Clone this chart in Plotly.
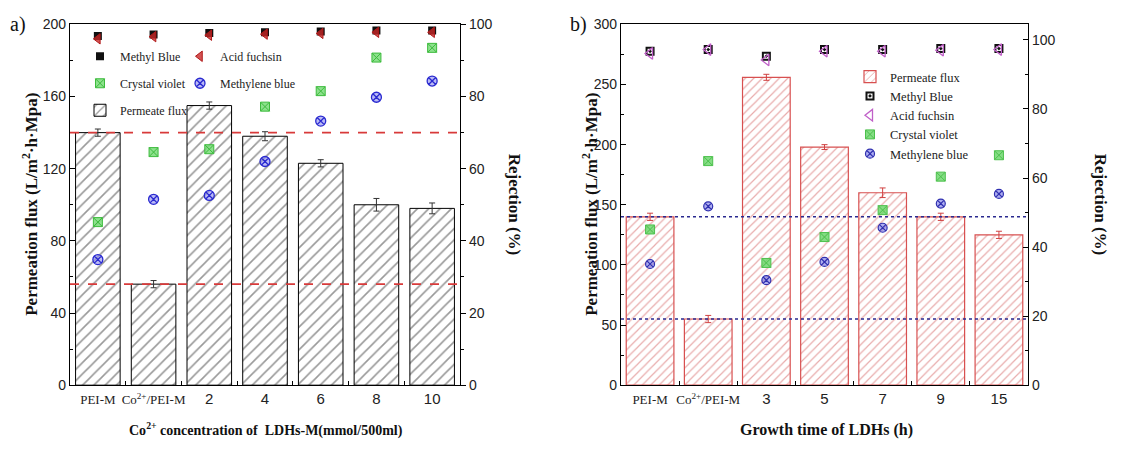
import plotly.graph_objects as go

# ---------------- data ----------------
# Panel a: Co2+ concentration series
cats_a = ["PEI-M", "Co2+/PEI-M", "2", "4", "6", "8", "10"]
labels_a = ["<span style='font-family:Liberation Serif;font-size:13px'>PEI-M</span>",
            "<span style='font-family:Liberation Serif;font-size:13px'>Co<sup>2+</sup>/PEI-M</span>",
            "2", "4", "6", "8", "10"]
flux_a = [140, 56, 155, 138, 123, 100, 98]
flux_err_a = [2, 2, 2, 2.5, 2, 3.5, 3]
methyl_blue_a = [96.8, 97.2, 97.6, 97.8, 98.0, 98.3, 98.3]
acid_fuchsin_a = [96.0, 96.6, 97.0, 97.3, 97.5, 97.8, 97.8]
crystal_violet_a = [45.2, 64.6, 65.4, 77.2, 81.5, 90.8, 93.5]
methylene_blue_a = [34.8, 51.5, 52.6, 62.0, 73.2, 79.8, 84.3]
ref_lines_a = [140, 56]

# Panel b: growth time series
cats_b = ["PEI-M", "Co2+/PEI-M", "3", "5", "7", "9", "15"]
labels_b = ["<span style='font-family:Liberation Serif;font-size:13px'>PEI-M</span>",
            "<span style='font-family:Liberation Serif;font-size:13px'>Co<sup>2+</sup>/PEI-M</span>",
            "3", "5", "7", "9", "15"]
flux_b = [140, 55, 256, 198, 160, 140, 125]
flux_err_b = [3, 3, 2.5, 2, 4, 3, 3]
methyl_blue_b = [96.7, 97.2, 95.3, 97.2, 97.2, 97.5, 97.5]
acid_fuchsin_b = [96.1, 97.2, 94.2, 96.7, 96.7, 97.0, 97.2]
crystal_violet_b = [45.1, 64.9, 35.4, 42.9, 50.7, 60.4, 66.6]
methylene_blue_b = [35.1, 51.8, 30.4, 35.7, 45.6, 52.6, 55.4]
ref_lines_b = [140, 55]

W, H = 1124, 452
SERIF = "Liberation Serif"
SANS = "Liberation Sans Narrow, Liberation Sans, Arial, sans-serif"


def px_x(v):
    return v / W


def px_y(v):
    return 1 - v / H


fig = go.Figure()

# ---------------- panel a ----------------
fig.add_trace(go.Bar(
    x=cats_a, y=flux_a, xaxis="x", yaxis="y", width=0.8,
    name="Permeate flux", legend="legend", legendgroup="a3",
    marker=dict(color="white", line=dict(color="black", width=1),
                pattern=dict(shape="/", fgcolor="#333333", bgcolor="white", size=8, solidity=0.2)),
    error_y=dict(type="data", array=flux_err_a, color="#333333", thickness=1, width=3),
    legendrank=3,
))
fig.add_trace(go.Scatter(
    x=cats_a, y=methyl_blue_a, xaxis="x", yaxis="y2", mode="markers",
    name="Methyl Blue", legend="legend", legendgroup="a1", legendrank=1,
    marker=dict(symbol="square", size=8, color="#111111", line=dict(width=0)),
))
fig.add_trace(go.Scatter(
    x=cats_a, y=crystal_violet_a, xaxis="x", yaxis="y2", mode="markers",
    name="Crystal violet", legend="legend", legendgroup="a2", legendrank=2,
    marker=dict(symbol="square-x", size=9, color="rgba(120,220,120,0.85)",
                line=dict(color="#3dbb3d", width=1)),
))
fig.add_trace(go.Scatter(
    x=cats_a, y=acid_fuchsin_a, xaxis="x", yaxis="y2", mode="markers",
    name="Acid fuchsin", legend="legend2", legendgroup="a4", legendrank=1,
    marker=dict(symbol="triangle-left", size=9, color="rgba(200,40,40,0.8)",
                line=dict(color="#b01818", width=1)),
))
fig.add_trace(go.Scatter(
    x=cats_a, y=methylene_blue_a, xaxis="x", yaxis="y2", mode="markers",
    name="Methylene blue", legend="legend2", legendgroup="a5", legendrank=2,
    marker=dict(symbol="circle-x", size=10, color="rgba(140,140,240,0.6)",
                line=dict(color="#2a2ad0", width=1.3)),
))

# ---------------- panel b ----------------
fig.add_trace(go.Bar(
    x=cats_b, y=flux_b, xaxis="x2", yaxis="y3", width=0.82,
    name="Permeate flux", legend="legend3", legendrank=1,
    marker=dict(color="white", line=dict(color="#d85050", width=1.2),
                pattern=dict(shape="/", fgcolor="#d25a5a", bgcolor="white", size=6, solidity=0.2)),
    error_y=dict(type="data", array=flux_err_b, color="#d04040", thickness=1, width=3),
))
fig.add_trace(go.Scatter(
    x=cats_b, y=methyl_blue_b, xaxis="x2", yaxis="y4", mode="markers",
    name="Methyl Blue", legend="legend3", legendrank=2,
    marker=dict(symbol="square-open-dot", size=7, color="#111111", line=dict(width=2)),
))
fig.add_trace(go.Scatter(
    x=cats_b, y=acid_fuchsin_b, xaxis="x2", yaxis="y4", mode="markers",
    name="Acid fuchsin", legend="legend3", legendrank=3,
    marker=dict(symbol="triangle-left-open", size=10, color="#c060c8", line=dict(width=1.3)),
))
fig.add_trace(go.Scatter(
    x=cats_b, y=crystal_violet_b, xaxis="x2", yaxis="y4", mode="markers",
    name="Crystal violet", legend="legend3", legendrank=4,
    marker=dict(symbol="square-x", size=9, color="rgba(110,215,110,0.85)",
                line=dict(color="#4cc04c", width=1)),
))
fig.add_trace(go.Scatter(
    x=cats_b, y=methylene_blue_b, xaxis="x2", yaxis="y4", mode="markers",
    name="Methylene blue", legend="legend3", legendrank=5,
    marker=dict(symbol="circle-x", size=9, color="rgba(120,120,230,0.6)",
                line=dict(color="#3030b0", width=1.2)),
))

# reference lines through the PEI-M and Co2+/PEI-M flux levels
shapes = []
for v in ref_lines_a:
    shapes.append(dict(type="line", xref="x domain", yref="y", x0=0, x1=1, y0=v, y1=v,
                       line=dict(color="#d83a3a", width=1.6, dash="dash"), layer="above"))
for v in ref_lines_b:
    shapes.append(dict(type="line", xref="x2 domain", yref="y3", x0=0, x1=1, y0=v, y1=v,
                       line=dict(color="#2a2a90", width=1.6, dash="dot"), layer="above"))

# ---------------- axes ----------------
xa_dom = [px_x(70), px_x(460)]
xb_dom = [px_x(621), px_x(1028)]
y_dom = [px_y(391), px_y(17)]

axis_common = dict(showline=True, linecolor="black", linewidth=1.2, ticks="inside",
                   tickcolor="black", ticklen=5, showgrid=False, zeroline=False,
                   tickfont=dict(family=SANS, size=14, color="#222"))

cat_axis = dict(axis_common, type="category", range=[-0.5, 6.5], tickson="boundaries",
                ticklen=4, mirror=True, tickangle=0,
                tickfont=dict(family=SANS, size=15, color="#222"))

fig.update_layout(
    width=W, height=H, margin=dict(l=0, r=0, t=0, b=0),
    paper_bgcolor="white", plot_bgcolor="white",
    barmode="overlay", shapes=shapes,
    xaxis=dict(cat_axis, domain=xa_dom, anchor="y", tickvals=cats_a, ticktext=labels_a),
    yaxis=dict(axis_common, domain=y_dom, anchor="x", range=[0, 200], dtick=40,
               minor=dict(dtick=20, ticks="inside", ticklen=3, tickcolor="black")),
    yaxis2=dict(axis_common, overlaying="y", side="right", anchor="x", range=[0, 100], dtick=20,
                ticks="outside",
                minor=dict(dtick=10, ticks="outside", ticklen=3, tickcolor="black")),
    xaxis2=dict(cat_axis, domain=xb_dom, anchor="y3", tickvals=cats_b, ticktext=labels_b),
    yaxis3=dict(axis_common, domain=y_dom, anchor="x2", range=[0, 300], dtick=50,
                minor=dict(dtick=25, ticks="inside", ticklen=3, tickcolor="black")),
    yaxis4=dict(axis_common, overlaying="y3", side="right", anchor="x2", range=[0, 104.5], dtick=20,
                minor=dict(dtick=10, ticks="inside", ticklen=3, tickcolor="black")),
    legend=dict(x=px_x(80), y=px_y(35), xanchor="left", yanchor="top",
                bgcolor="rgba(0,0,0,0)", font=dict(family=SERIF, size=12, color="#222"),
                tracegroupgap=8, traceorder="grouped"),
    legend2=dict(x=px_x(180), y=px_y(35), xanchor="left", yanchor="top",
                 bgcolor="rgba(0,0,0,0)", font=dict(family=SERIF, size=12, color="#222"),
                 tracegroupgap=8, traceorder="grouped"),
    legend3=dict(x=px_x(850), y=px_y(56), xanchor="left", yanchor="top",
                 bgcolor="rgba(0,0,0,0)", font=dict(family=SERIF, size=12.5, color="#222"),
                 tracegroupgap=0),
    showlegend=True,
)

title_font = dict(family=SERIF, size=17, color="#111")
annotations = [
    dict(text="a)", x=px_x(18), y=px_y(17), font=dict(family=SERIF, size=20, color="#111")),
    dict(text="b)", x=px_x(578), y=px_y(17), font=dict(family=SERIF, size=20, color="#111")),
    dict(text="<b>Permeation flux (L/m<sup>2</sup>·h·Mpa)</b>", x=px_x(30), y=px_y(204),
         textangle=-90, font=title_font),
    dict(text="<b>Rejection (%)</b>", x=px_x(514), y=px_y(204), textangle=90, font=title_font),
    dict(text="<b>Co<sup>2+</sup> concentration of  LDHs-M(mmol/500ml)</b>", x=px_x(266), y=px_y(437),
         font=dict(family=SERIF, size=14, color="#111")),
    dict(text="<b>Permeation flux (L/m<sup>2</sup>·h·Mpa)</b>", x=px_x(590), y=px_y(204),
         textangle=-90, font=title_font),
    dict(text="<b>Rejection (%)</b>", x=px_x(1100), y=px_y(204), textangle=90, font=title_font),
    dict(text="<b>Growth time of LDHs (h)</b>", x=px_x(826), y=px_y(437),
         font=dict(family=SERIF, size=16, color="#111")),
]
for a in annotations:
    a.update(xref="paper", yref="paper", showarrow=False, xanchor="center", yanchor="middle")
fig.update_layout(annotations=annotations)

fig.write_html("out.html")
